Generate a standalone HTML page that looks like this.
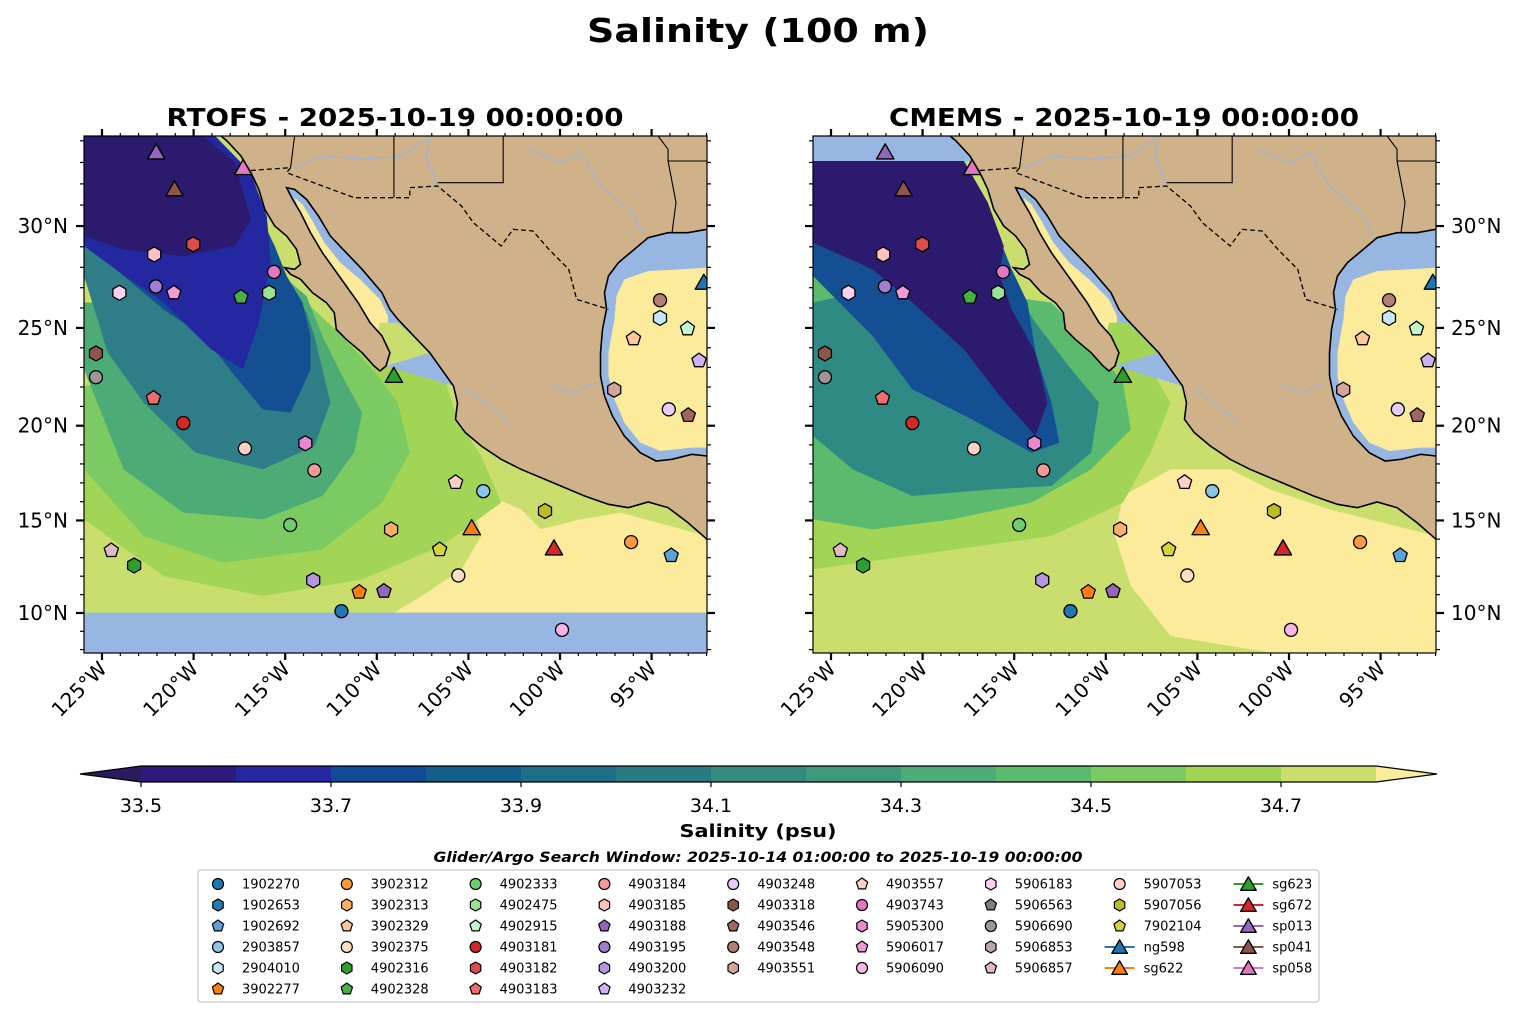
<!DOCTYPE html>
<html><head><meta charset="utf-8"><style>
html,body{margin:0;padding:0;background:#fff;}
svg{display:block;font-family:"DejaVu Sans","Liberation Sans",sans-serif;}
</style></head><body>
<svg id="fig" width="1517" height="1015" viewBox="0 0 1517 1015" xmlns="http://www.w3.org/2000/svg">
<rect width="1517" height="1015" fill="#fff"/>
<text x="758" y="42" text-anchor="middle" font-size="33" font-weight="bold" textLength="342" lengthAdjust="spacingAndGlyphs">Salinity (100 m)</text>
<text x="395" y="126" text-anchor="middle" font-size="25" font-weight="bold" textLength="457" lengthAdjust="spacingAndGlyphs">RTOFS - 2025-10-19 00:00:00</text>
<text x="1124" y="126" text-anchor="middle" font-size="25" font-weight="bold" textLength="470" lengthAdjust="spacingAndGlyphs">CMEMS - 2025-10-19 00:00:00</text>
<g id="panels"></g>
<g id="cbar"></g>
<text x="758" y="837" text-anchor="middle" font-size="18" font-weight="bold" textLength="157" lengthAdjust="spacingAndGlyphs">Salinity (psu)</text>
<text x="758" y="862" text-anchor="middle" font-size="14" font-weight="bold" font-style="italic" textLength="649" lengthAdjust="spacingAndGlyphs">Glider/Argo Search Window: 2025-10-14 01:00:00 to 2025-10-19 00:00:00</text>
<g id="legend"></g>
</svg>
<script>
// ---- data ----
const floatIds = ["1902270","1902653","1902692","2903857","2904010","3902277","3902312","3902313","3902329","3902375","4902316","4902328","4902333","4902475","4902915","4903181","4903182","4903183","4903184","4903185","4903188","4903195","4903200","4903232","4903248","4903318","4903546","4903548","4903551","4903557","4903743","5905300","5906017","5906090","5906183","5906563","5906690","5906853","5906857","5907053","5907056","7902104"];
const floatLon = [-111.93,null,-93.93,-104.19,-94.54,-110.96,-96.12,-109.22,-95.99,-105.55,-123.25,-117.42,-114.73,-115.88,-93.04,-120.56,-120.02,-122.19,-113.41,-122.15,-109.61,-122.06,-113.47,-92.41,-94.06,-125.33,-93.0,-94.54,-97.04,-105.7,-115.61,-113.9,-121.08,-99.89,-124.05,null,-125.33,null,-124.49,-117.2,-100.82,-106.57];
const floatLat = [10.1,null,13.12,16.56,25.5,11.14,13.84,14.52,24.46,12.04,12.58,26.54,14.76,26.75,24.96,20.14,29.12,21.43,17.66,28.63,11.19,27.06,11.78,23.35,20.85,23.71,20.54,26.38,21.86,17.03,27.78,19.08,26.75,9.08,26.75,null,22.5,null,13.39,18.81,15.5,13.44];
const floatShape = ["o","h","p","o","h","p","o","h","p","o","h","p","o","h","p","o","h","p","o","h","p","o","h","p","o","h","p","o","h","p","o","h","p","o","h","p","o","h","p","o","h","p"];
const floatColor = ["#1f77b4","#2a7ab0","#5aa5d8","#8cc4ea","#c6e5f8","#ff7f0e","#ff9a3c","#ffb066","#ffc79a","#ffdfc1","#2ca02c","#45b045","#6cce6c","#98e294","#c4f7c8","#d62728","#df4a4a","#eb6d6d","#f39a97","#ffc0c0","#9467bd","#a17fd0","#b596e0","#cfb2f5","#e8cdfc","#8c564b","#a0685c","#b57f72","#d4a69b","#ffd1c6","#e377c2","#ea88cf","#f09ad8","#f7b5e5","#fdd0f1","#7f7f7f","#9e9696","#b8a9a9","#dcbcbc","#ffcfc8","#bcbd22","#d4d43e"];
const gliderIds = ["ng598","sg622","sg623","sg672","sp013","sp041","sp058"];
const gliderLon = [-92.15,-104.82,-109.07,-100.33,-122.04,-121.04,-117.3];
const gliderLat = [27.27,14.61,22.6,13.53,33.49,31.77,32.76];
const gliderColor = ["#1f77b4","#ff7f0e","#2ca02c","#d62728","#9467bd","#8c564b","#e377c2"];
const cbarLevels = [33.5,33.6,33.7,33.8,33.9,34.0,34.1,34.2,34.3,34.4,34.5,34.6,34.7,34.8];
const cbarColors = ["#2e1a78","#2427a0","#124a96","#135e8a","#1f6e87","#2a7a84","#378a80","#3f9a7c","#4dab76","#5bba6e","#7ccb62","#a2d556","#c9de6d"];
const cbarTicks = [33.5,33.7,33.9,34.1,34.3,34.5,34.7];
const lonTicks = [-125,-120,-115,-110,-105,-100,-95];
const latTicks = [10,15,20,25,30];

const NS="http://www.w3.org/2000/svg";
function mk(tag,attrs,parent){const e=document.createElementNS(NS,tag);for(const k in attrs)e.setAttribute(k,attrs[k]);if(parent)parent.appendChild(e);return e;}
const merc=l=>Math.log(Math.tan(Math.PI/4+l*Math.PI/360));
const xOf=(ox,lon)=>ox+18+(lon+125)*18.32;
const yOf=lat=>613-(merc(lat)-merc(10))*1035;
const pts=a=>a.map(p=>p.join(",")).join(" ");

function shapePath(s,cx,cy,r){
  let n = s==="p"?5:(s==="h"?6:3), out=[];
  for(let i=0;i<n;i++){const a=-Math.PI/2+i*2*Math.PI/n;out.push([cx+r*Math.cos(a),cy+r*Math.sin(a)+(n===3?r*0.2:0)]);}
  return out.map(p=>p[0].toFixed(1)+","+p[1].toFixed(1)).join(" ");
}
function marker(g,s,cx,cy,r,fill,sw){
  if(s==="o") return mk("circle",{cx:cx,cy:cy,r:r,fill:fill,stroke:"#000","stroke-width":sw},g);
  return mk("polygon",{points:shapePath(s,cx,cy,r),fill:fill,stroke:"#000","stroke-width":sw,"stroke-linejoin":"round"},g);
}

// geometry in zoom-space (1568 x 1560 for a 623 x 520 panel)
const pacific=[[0,0],[345,0],[360,15],[395,60],[420,110],[440,160],[455,220],[480,270],[510,300],[535,340],[545,385],[530,400],[505,395],[520,415],[545,430],[575,470],[610,500],[630,530],[635,580],[660,610],[700,650],[730,690],[745,705],[760,690],[770,650],[750,600],[720,560],[690,500],[660,450],[630,400],[600,350],[570,290],[545,230],[525,190],[510,155],[530,160],[560,190],[590,240],[620,300],[660,350],[700,400],[750,470],[770,520],[790,550],[830,600],[870,650],[900,700],[930,750],[940,800],[935,850],[960,890],[1000,930],[1050,970],[1100,1000],[1180,1040],[1260,1080],[1320,1105],[1370,1115],[1420,1098],[1470,1115],[1520,1160],[1568,1210],[1568,1560],[0,1560]];
const goc=pacific.slice(23,48);
const gom=[[1568,280],[1520,290],[1470,290],[1420,305],[1385,340],[1345,380],[1320,420],[1310,470],[1315,520],[1305,580],[1300,650],[1300,720],[1310,780],[1330,840],[1360,900],[1400,950],[1440,975],[1480,970],[1530,955],[1568,960]];
const gomY=[[1568,395],[1500,400],[1420,405],[1360,430],[1340,480],[1335,550],[1320,650],[1320,720],[1335,790],[1360,860],[1400,920],[1450,945],[1530,935],[1568,935]];
const gocY=[[530,185],[550,205],[575,255],[605,320],[645,380],[695,430],[745,490],[765,540],[765,590],[740,600],[710,560],[680,500],[650,450],[620,390],[590,340],[565,290],[545,240]];
const layersL=[
 ["#fbeb9a",[[1000,1070],[1100,1120],[1150,1180],[1250,1150],[1350,1130],[1568,1200],[1568,1430],[780,1430],[850,1380],[950,1300],[1000,1200],[980,1120]]],
 ["#a2d556",[[0,1150],[200,1320],[450,1380],[700,1330],[900,1230],[1050,1100],[1000,960],[940,850],[900,700],[820,600],[760,560],[700,600],[600,650],[400,800],[0,900]]],
 ["#7ccb62",[[0,1000],[150,1200],[350,1280],[600,1240],[750,1100],[820,950],[790,800],[740,720],[650,600],[560,500],[450,500],[300,700],[0,750]]],
 ["#4dab76",[[0,700],[100,1000],[250,1130],[450,1150],[600,1080],[680,950],[700,830],[650,720],[600,600],[560,480],[500,420],[400,420],[200,500],[0,500]]],
 ["#2f7d86",[[0,420],[60,650],[150,800],[280,950],[450,1000],[580,930],[620,800],[600,700],[580,600],[560,530],[520,450],[450,380],[250,330],[100,300],[0,280]]],
 ["#154f93",[[0,260],[80,400],[200,520],[300,600],[380,720],[450,820],[520,830],[570,700],[570,600],[550,500],[510,420],[480,330],[440,230],[380,150],[330,60],[300,0],[0,0]]],
 ["#2327a0",[[0,0],[330,0],[420,110],[460,240],[470,380],[440,560],[400,700],[320,640],[200,500],[80,400],[0,330]]],
 ["#2b1a6e",[[0,0],[300,0],[380,80],[420,250],[380,330],[250,360],[100,340],[0,300]]],
 ["#98b6e2",[[0,1430],[1568,1430],[1568,1560],[0,1560]]]
];
const layersR=[
 ["#fbeb9a",[[780,1080],[900,1000],[1050,1000],[1150,1060],[1300,1120],[1568,1200],[1568,1560],[1200,1560],[900,1500],[800,1350],[760,1200]]],
 ["#a2d556",[[0,1000],[0,1300],[300,1250],[600,1200],[780,1100],[850,950],[900,800],[820,640],[760,560],[600,600],[300,800]]],
 ["#5bba6e",[[0,400],[0,1150],[150,1180],[350,1150],[550,1100],[700,1000],[800,880],[780,740],[700,620],[600,500]]],
 ["#2f8a84",[[0,500],[0,900],[100,1000],[250,1080],[450,1060],[600,1050],[700,950],[720,800],[650,700],[560,560],[500,450],[300,420]]],
 ["#154f93",[[0,280],[0,420],[150,600],[250,760],[400,850],[550,950],[620,920],[600,800],[560,650],[540,500],[500,400],[450,250],[400,150],[380,75],[0,75]]],
 ["#2b1a6e",[[0,75],[380,75],[440,200],[480,330],[470,420],[500,520],[560,650],[590,800],[560,900],[470,780],[380,640],[250,500],[150,400],[0,320]]],
 ["#98b6e2",[[0,0],[1568,0],[1568,75],[0,75]]]
];
const border=[[400,105],[520,95],[510,110],[680,185],[820,185],[820,155],[890,150],[950,210],[980,260],[1050,330],[1080,280],[1130,285],[1170,340],[1220,400],[1240,490],[1320,520]];
const stateLines=[[[530,0],[520,95]],[[780,0],[780,185]],[[1055,0],[1055,140],[890,140]],[[1445,0],[1470,40],[1470,75],[1568,75]],[[1470,75],[1490,200],[1480,290]]];
const rivers=[[[530,95],[600,60],[700,70],[800,60],[860,10]],[[870,0],[860,60],[890,150]],[[1120,40],[1200,80],[1250,50],[1300,150],[1380,230],[1410,300]],[[1180,750],[1230,770],[1290,740]],[[960,760],[1000,790],[1040,830],[1070,860]]];

const panels=document.getElementById("panels");
function drawPanel(ox,name,layers){
  const g=mk("g",{},panels);
  
  
  const cid="clip-"+name;
  const cp=mk("clipPath",{id:cid},g); mk("rect",{x:ox,y:136,width:623,height:517},cp);
  const ocid="oclip-"+name;
  const ocp=mk("clipPath",{id:ocid},g);
  mk("polygon",{points:pts(pacific)},ocp); mk("polygon",{points:pts(gom)},ocp);
  const inner=mk("g",{"clip-path":"url(#"+cid+")"},g);
  const z=mk("g",{transform:`translate(${ox},136) scale(${623/1568},${1/3})`},inner);
  const land=mk("rect",{x:0,y:0,width:1568,height:1560,fill:"#d0b28a"},z);
  
  const oc=mk("g",{"clip-path":"url(#"+ocid+")"},z);
  mk("rect",{x:0,y:0,width:1568,height:1560,fill:"#c9de6d"},oc);
  layers.forEach(l=>mk("polygon",{points:pts(l[1]),fill:l[0]},oc));
  mk("polygon",{points:pts(gom),fill:"#98b6e2"},oc);
  mk("polygon",{points:pts(gomY),fill:"#fbeb9a"},oc);
  mk("polygon",{points:pts(goc),fill:"#98b6e2"},oc);
  mk("polygon",{points:pts(gocY),fill:"#fbeb9a"},oc);
  mk("polygon",{points:"745,560 790,560 870,650 760,690 730,640",fill:name==="cmems"?"#a2d556":"#c9de6d"},oc);
  const cs={fill:"none",stroke:"#000","stroke-width":1.6,"vector-effect":"non-scaling-stroke"};
  const coast=mk("polyline",Object.assign({points:pts(pacific.slice(1,-2))},cs),z);
  
  mk("polyline",Object.assign({points:pts(gom)},cs),z);
  rivers.forEach(r=>mk("polyline",{points:pts(r),fill:"none",stroke:"#9ab4d8","stroke-width":1.2,"vector-effect":"non-scaling-stroke"},z));
  const bd=mk("polyline",{points:pts(border),fill:"none",stroke:"#000","stroke-width":1.3,"stroke-dasharray":"5,3","vector-effect":"non-scaling-stroke"},z);
  
  stateLines.forEach(s=>mk("polyline",{points:pts(s),fill:"none",stroke:"#000","stroke-width":1.1,"vector-effect":"non-scaling-stroke"},z));
  const mg=mk("g",{},inner);
  for(let i=0;i<floatIds.length;i++){
    if(floatLon[i]===null) continue;
    const m=marker(mg,floatShape[i],xOf(ox,floatLon[i]),yOf(floatLat[i]),floatShape[i]==="o"?6.5:7.5,floatColor[i],1.3);
    
    
  }
  for(let i=0;i<gliderIds.length;i++){
    const m=marker(mg,"t",xOf(ox,gliderLon[i]),yOf(gliderLat[i]),10,gliderColor[i],1.4);
    
    
  }
  mk("rect",{x:ox,y:136,width:623,height:517,fill:"none",stroke:"#000","stroke-width":1.2},g);
  const tg=mk("g",{stroke:"#000"},g);
  for(let lon=-126;lon<=-92;lon++){
    const x=xOf(ox,lon); if(x<ox||x>ox+623) continue;
    const major=lon%5===0;
    mk("line",{x1:x,x2:x,y1:653,y2:major?660:656,"stroke-width":major?2.2:1.2},tg);
    mk("line",{x1:x,x2:x,y1:136,y2:major?129:133,"stroke-width":major?2.2:1.2},tg);
  }
  for(let lat=8;lat<=34;lat++){
    const y=yOf(lat); if(y<136||y>653) continue;
    const major=lat%5===0;
    mk("line",{x1:ox,x2:ox-(major?8:4),y1:y,y2:y,"stroke-width":major?2.2:1.2},tg);
    mk("line",{x1:ox+623,x2:ox+623+(major?8:4),y1:y,y2:y,"stroke-width":major?2.2:1.2},tg);
  }
  lonTicks.forEach(lon=>{
    const x=xOf(ox,lon);
    const t=mk("text",{x:x+6,y:670,"text-anchor":"end",transform:`rotate(-45 ${x+6} 670)`,"font-size":20},g);
    t.textContent=(-lon)+"°W";
    
    
  });
  latTicks.forEach(lat=>{
    const y=yOf(lat);
    const left=name==="rtofs";
    const t=mk("text",{x:left?ox-16:ox+638,y:y+7,"text-anchor":left?"end":"start","font-size":20},g);
    t.textContent=lat+"°N";
    
    
  });
}
drawPanel(84,"rtofs",layersL);
drawPanel(813,"cmems",layersR);

// colorbar
const cb=document.getElementById("cbar");
const cx0=141, cw=95, cy=766, ch=16;
const cxOf=v=>cx0+(v-cbarLevels[0])/(cbarLevels[1]-cbarLevels[0])*cw;
const ue=mk("polygon",{points:`${cxOf(33.5)},${cy} 80,${cy+ch/2} ${cxOf(33.5)},${cy+ch}`,fill:"#2a1a5e"},cb);

for(let i=0;i<cbarColors.length;i++){
  const r=mk("rect",{x:cxOf(cbarLevels[i]),y:cy,width:cxOf(cbarLevels[i+1])-cxOf(cbarLevels[i])+0.5,height:ch,fill:cbarColors[i]},cb);
  
  
}
const xe=cxOf(cbarLevels[cbarLevels.length-1]);
const oe=mk("polygon",{points:`${xe},${cy} 1437,${cy+ch/2} ${xe},${cy+ch}`,fill:"#fbeb9a"},cb);

mk("polygon",{points:`${cxOf(33.5)},${cy} 80,${cy+ch/2} ${cxOf(33.5)},${cy+ch} ${xe},${cy+ch} 1437,${cy+ch/2} ${xe},${cy}`,fill:"none",stroke:"#000","stroke-width":1.2},cb);
cbarTicks.forEach(v=>{
  const x=cxOf(v);
  mk("line",{x1:x,x2:x,y1:cy+ch,y2:cy+ch+5,stroke:"#000","stroke-width":1.2},cb);
  const t=mk("text",{x:x,y:812,"text-anchor":"middle","font-size":19},cb);
  t.textContent=v.toFixed(1);
  
  
});

// legend
const lg=document.getElementById("legend");
mk("rect",{x:198,y:870,width:1121,height:132,rx:3,fill:"#fff",stroke:"#d0d0d0","stroke-width":1.5},lg);
const allIds=floatIds.concat(gliderIds);
const rowsPerCol=[6,6,6,6,5,5,5,5,5];
let idx=0;
for(let c=0;c<9;c++){
  for(let r=0;r<rowsPerCol[c];r++){
    const mx=218+128.8*c, my=884+21*r;
    const id=allIds[idx];
    const eg=mk("g",{},lg);
    
    
    if(idx<floatIds.length){
      marker(eg,floatShape[idx],mx,my,floatShape[idx]==="o"?5.5:6,floatColor[idx],1.2);
    } else {
      const gi=idx-floatIds.length;
      mk("line",{x1:mx-15,x2:mx+15,y1:my,y2:my,stroke:gliderColor[gi],"stroke-width":2},eg);
      marker(eg,"t",mx,my,9,gliderColor[gi],1.4);
    }
    const t=mk("text",{x:mx+24,y:my+4.5,"font-size":13},eg);
    t.textContent=id;
    idx++;
  }
}
</script>
</body></html>
